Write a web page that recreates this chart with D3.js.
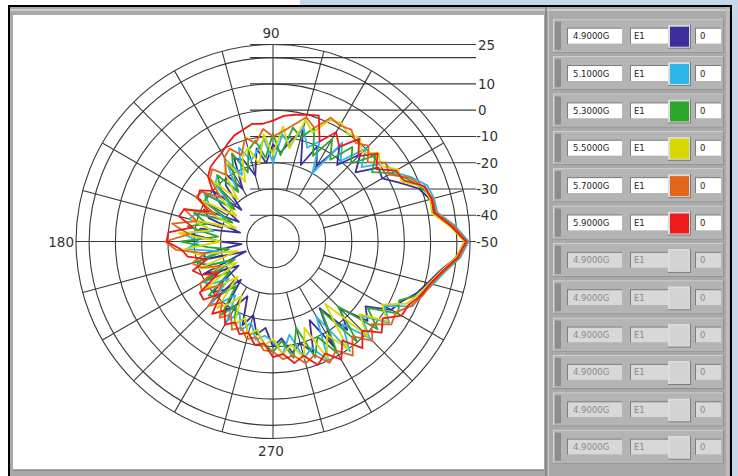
<!DOCTYPE html>
<html><head><meta charset="utf-8">
<script src="https://cdn.jsdelivr.net/npm/d3@7/dist/d3.min.js"></script>
<style>html,body{margin:0;padding:0;background:#fff;}svg{display:block;}</style>
</head><body>
<svg id="chart" width="738" height="476"></svg>
<script>
// ---------- data ----------
const angles = [0,5,10,15,20,25,30,35,40,45,50,55,60,65,70,75,80,85,90,95,100,105,110,115,120,125,130,135,140,145,150,155,160,165,170,175,180,185,190,195,200,205,210,215,220,225,230,235,240,245,250,255,260,265,270,275,280,285,290,295,300,305,310,315,320,325,330,335,340,345,350,355];

const s49 = [23,18,12,12,9,3,-2,-1,-9,-3,-12,-6,-17,-10,-19,-6,-11,-16,
  -13,-20,-14,-24,-17,-15,-27,-19,-22,-33,-20,-26,-35,-21,-24,-37,-22,-19,-30,-38,-22,-25,-39,-21,-28,-34,-20,-24,-31,-18,-22,-27,-16,-21,-14,-17,
  -10,-13,-7,-10,-5,-17,-4,-19,-6,-14,-3,-7,2,4,8,11,14.5,20];
const s51 = [24.5,19.5,13.5,13.5,12.5,8,3,2,-6,0,-10,-4,-20,-8,-12,-5,-13,-9,
  -20,-11,-15,-18,-12,-22,-14,-26,-17,-19,-29,-18,-22,-30,-19,-17,-27,-15,-22,-17,-29,-20,-24,-33,-19,-22,-28,-16,-20,-25,-15,-20,-14,-18,-12,-14,
  -12,-7,-14,-4,-7,0,-17,1,-9,2,-6,4,-1,8.5,10,13,16.5,21.5];
const s53 = [23.5,18.5,12.5,13,10,6.5,2,-4,1,-8,-3,-12,-5,-14,-4,-9,-6,-17,
  -9,-18,-11,-14,-22,-13,-20,-27,-17,-22,-31,-19,-20,-33,-18,-24,-17,-29,-15,-25,-33,-20,-23,-34,-19,-30,-18,-21,-28,-16,-22,-15,-19,-13,-15,-11,
  -8,-12,-5,-16,-3,-10,-1,-18,0,-15,2,-6,5,3,9.5,12,15.5,20.5];
const s55 = [23,17.5,11.5,12,11,4,5,0,2.5,-2,1.5,0,2,1,-6,-2,-14,-6,
  -17,-9,-20,-13,-16,-25,-15,-18,-29,-17,-24,-33,-19,-22,-35,-18,-26,-14,-30,-16,-21,-36,-20,-27,-34,-19,-24,-31,-17,-21,-26,-15,-19,-13,-16,-10,
  -13,-7,-10,-4,-15,-1,-9,0,-19,1,-7,3,-2,6,9,11.5,15,20];
const s57 = [24,19,13,13,11,7.5,1,2.5,-3,1.5,-1,2,1,2,-4,-1,-5,-8,
  -10,-7,-12,-9,-15,-11,-13,-19,-14,-16,-24,-17,-16,-26,-14,-20,-11,-18,-9,-13,-24,-18,-21,-28,-18,-17,-25,-15,-20,-14.5,-18,-13,-15,-11.5,-13,-8.5,
  -8,-5,-6,-2,-4,1,-2,3,-3,3.5,-1,5,4,8,10.5,12.5,16,21];
const s59 = [23.5,18,12.5,12.5,11.5,5,4,-2,2,-4,1,-6,-2,-8,1,0,-1,-2,
  -4,-5,-4.5,-6,-7,-9,-11,-12,-13,-15,-20,-16,-17,-23,-14,-13,-19,-10,-9.5,-15,-17,-24,-17.5,-20,-26,-16,-15.5,-22,-14,-18,-13.5,-16,-12.5,-14,-10,-11,
  -6,-7,-3,-5,0,-3,2,-4,3,-2,4,1,6.5,7,10,12,15.5,20.5];

const seriesNames  = ["4.9000G","5.1000G","5.3000G","5.5000G","5.7000G","5.9000G"];
const seriesColors = ["#3b2f9e","#2cb6ea","#2ea62e","#d8d800","#e2661a","#ec1a1a"];
const seriesValues = [s49, s51, s53, s55, s57, s59];
const seriesField  = ["E1","E1","E1","E1","E1","E1"];
const seriesOffset = ["0","0","0","0","0","0"];

const radialTicks      = [-50,-40,-30,-20,-10,0,10,20,25];
const radialTickLabels = ["-50","-40","-30","-20","-10","0","10","","25"];
const gridAngles = [0,15,30,45,60,75,90,105,120,135,150,165,180,195,210,225,240,255,270,285,300,315,330,345];
const angleLabelValues = [90,180,270];
const angleLabelTexts  = ["90","180","270"];

const emptyRowNames = ["4.9000G","4.9000G","4.9000G","4.9000G","4.9000G","4.9000G"];

// ---------- frame ----------
const svg = d3.select("#chart");
svg.append("rect").attr("x",0).attr("y",0).attr("width",738).attr("height",476).attr("fill","#ffffff");
svg.append("rect").attr("x",300).attr("y",0).attr("width",438).attr("height",6).attr("fill","#c6d7eb");
svg.append("rect").attr("x",731).attr("y",0).attr("width",7).attr("height",476).attr("fill","#c6d7eb");
svg.append("rect").attr("x",8).attr("y",5).attr("width",724).attr("height",2).attr("fill","#000");
svg.append("rect").attr("x",8).attr("y",5).attr("width",2).attr("height",471).attr("fill","#000");
svg.append("rect").attr("x",730).attr("y",5).attr("width",2).attr("height",471).attr("fill","#000");
svg.append("rect").attr("x",10).attr("y",7).attr("width",720).attr("height",469).attr("fill","#a9a9a9");
svg.append("rect").attr("x",10).attr("y",9).attr("width",720).attr("height",2).attr("fill","#cdcdcd");
svg.append("rect").attr("x",13).attr("y",15).attr("width",531).attr("height",454).attr("fill","#ffffff");
svg.append("rect").attr("x",13).attr("y",470).attr("width",531).attr("height",1).attr("fill","#8a8a8a");
svg.append("rect").attr("x",545).attr("y",7).attr("width",2).attr("height",469).attr("fill","#8a8a8a");
svg.append("rect").attr("x",548).attr("y",7).attr("width",1).attr("height",469).attr("fill","#c8c8c8");
svg.append("rect").attr("x",726).attr("y",7).attr("width",3).attr("height",469).attr("fill","#bdbdbd");

// ---------- polar plot ----------
const cx = 273, cy = 241.5;
const rScale = d3.scaleLinear().domain([-50,25]).range([0,197]);
const g = svg.append("g").attr("transform",`translate(${cx},${cy})`);
const gridColor = "#3a3a3a";
const rad = a => a*Math.PI/180;

g.selectAll("circle.grid").data(radialTicks.filter(v=>v>-50)).join("circle")
  .attr("class","grid").attr("r",d=>rScale(d))
  .attr("fill","none").attr("stroke",gridColor).attr("stroke-width",1.1);

g.selectAll("line.spoke").data(gridAngles.filter(a=>a%90!==0)).join("line")
  .attr("class","spoke")
  .attr("x1",a=>rScale(-30)*Math.cos(rad(a))).attr("y1",a=>-rScale(-30)*Math.sin(rad(a)))
  .attr("x2",a=>rScale(25)*Math.cos(rad(a))).attr("y2",a=>-rScale(25)*Math.sin(rad(a)))
  .attr("stroke",gridColor).attr("stroke-width",1.1);

g.append("line").attr("x1",0).attr("x2",0).attr("y1",-rScale(25)).attr("y2",rScale(25))
  .attr("stroke",gridColor).attr("stroke-width",1.1);
g.append("line").attr("x1",-rScale(25)).attr("x2",203).attr("y1",0).attr("y2",0)
  .attr("stroke",gridColor).attr("stroke-width",1.1);

const tickData = radialTicks.map((v,i)=>({v, t:radialTickLabels[i]}));
g.selectAll("line.rtick").data(tickData.filter(d=>d.v>-50)).join("line")
  .attr("class","rtick")
  .attr("x1",-23).attr("x2",203)
  .attr("y1",d=>-rScale(d.v)).attr("y2",d=>-rScale(d.v))
  .attr("stroke",gridColor).attr("stroke-width",1.1);
g.selectAll("text.rlab").data(tickData).join("text")
  .attr("class","rlab")
  .attr("x",d=>d.v<0?203:205)
  .attr("y",d=>-rScale(d.v)+5)
  .attr("font-family","DejaVu Sans, Verdana, sans-serif").attr("font-size",13.5)
  .attr("fill","#333").text(d=>d.t);

const angData = angleLabelValues.map((a,i)=>({a,t:angleLabelTexts[i]}));
g.selectAll("text.alab").data(angData).join("text")
  .attr("class","alab")
  .attr("x",d=>d.a===180 ? -rScale(25)-2 : -2)
  .attr("y",d=>d.a===90 ? -rScale(25)-7 : (d.a===270 ? rScale(25)+17 : 5))
  .attr("text-anchor",d=>d.a===180?"end":"middle")
  .attr("font-family","DejaVu Sans, Verdana, sans-serif").attr("font-size",13.5)
  .attr("fill","#333").text(d=>d.t);

const line = d3.lineRadial()
  .angle(d=>rad(90-d.a))
  .radius(d=>rScale(d.v))
  .curve(d3.curveLinearClosed);
const traces = seriesValues.map((vals,k)=>({k, pts: angles.map((a,i)=>({a, v: vals[i]}))}));
g.selectAll("path.trace").data(traces).join("path")
  .attr("class","trace")
  .attr("d",d=>line(d.pts))
  .attr("fill","none")
  .attr("stroke",d=>seriesColors[d.k])
  .attr("stroke-width",1.8)
  .attr("stroke-linejoin","round");

// ---------- legend panel ----------
const rowY0 = 35.7, rowStep = 37.36;
const rows = seriesNames.map((n,i)=>({name:n, field:seriesField[i], off:seriesOffset[i], color:seriesColors[i], active:true}))
  .concat(emptyRowNames.map(n=>({name:n, field:"E1", off:"0", color:null, active:false})));
const panel = svg.append("g");
rows.forEach((r,i)=>{
  const y = rowY0 + i*rowStep;
  const row = panel.append("g").attr("transform",`translate(0,${y})`);
  row.append("rect").attr("x",553).attr("y",-17).attr("width",171).attr("height",34).attr("fill","#8f8f8f");
  row.append("rect").attr("x",553).attr("y",-17).attr("width",170).attr("height",33).attr("fill","#d2d2d2");
  row.append("rect").attr("x",554).attr("y",-16).attr("width",169).attr("height",32).attr("fill","#b4b4b4");
  row.append("rect").attr("x",555).attr("y",-14).attr("width",6).attr("height",28).attr("fill","#8c8c8c");
  const boxFill = r.active ? "#ffffff" : "#d8d8d8";
  const txtFill = r.active ? "#222" : "#8a8a8a";
  row.append("rect").attr("x",567).attr("y",-8).attr("width",55).attr("height",16).attr("fill","#7d7d7d");
  row.append("rect").attr("x",568).attr("y",-7).attr("width",54).attr("height",15).attr("fill",boxFill);
  row.append("text").attr("x",573).attr("y",3.5).attr("font-family","DejaVu Sans, sans-serif")
    .attr("font-size",8.5).attr("fill",txtFill).text(r.name);
  row.append("rect").attr("x",630).attr("y",-8).attr("width",40).attr("height",16).attr("fill","#7d7d7d");
  row.append("rect").attr("x",631).attr("y",-7).attr("width",39).attr("height",15).attr("fill",boxFill);
  row.append("text").attr("x",634).attr("y",3.5).attr("font-family","DejaVu Sans, sans-serif")
    .attr("font-size",8.5).attr("fill",txtFill).text(r.field);
  row.append("rect").attr("x",668).attr("y",-11).attr("width",23).attr("height",24).attr("fill","#7a7a7a");
  row.append("rect").attr("x",668).attr("y",-11).attr("width",22).attr("height",23).attr("fill","#dcdcdc");
  row.append("rect").attr("x",670).attr("y",-9).attr("width",19).attr("height",20).attr("fill", r.active ? r.color : "#d3d3d3");
  row.append("rect").attr("x",695).attr("y",-8).attr("width",26).attr("height",16).attr("fill","#7d7d7d");
  row.append("rect").attr("x",696).attr("y",-7).attr("width",25).attr("height",15).attr("fill",boxFill);
  row.append("text").attr("x",700).attr("y",3.5).attr("font-family","DejaVu Sans, sans-serif")
    .attr("font-size",8.5).attr("fill",txtFill).text(r.off);
});
</script>
</body></html>
